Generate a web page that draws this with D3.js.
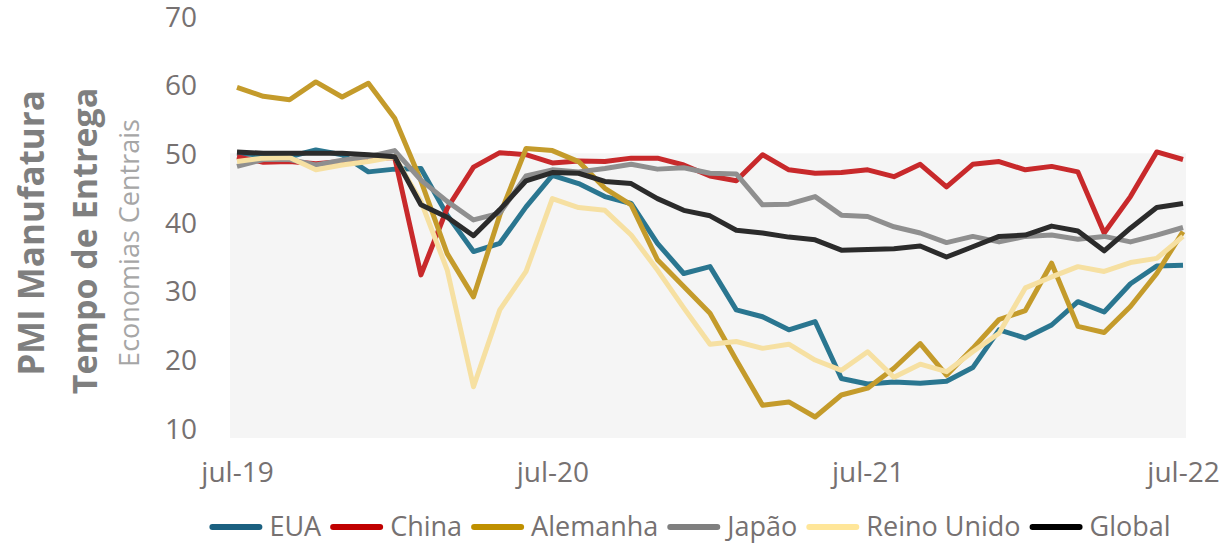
<!DOCTYPE html>
<html>
<head>
<meta charset="utf-8">
<script src="https://cdn.jsdelivr.net/npm/d3@7"></script>
<style>
  html, body { margin: 0; padding: 0; background: #ffffff; }
  svg { display: block; font-family: "Open Sans", "Noto Sans", sans-serif; }
</style>
</head>
<body>
<svg id="chart" width="1224" height="543"></svg>
<script>
// Monthly categories, jul-19 .. jul-22
const months = ["jul-19","ago-19","set-19","out-19","nov-19","dez-19","jan-20","fev-20","mar-20","abr-20","mai-20","jun-20",
  "jul-20","ago-20","set-20","out-20","nov-20","dez-20","jan-21","fev-21","mar-21","abr-21","mai-21","jun-21",
  "jul-21","ago-21","set-21","out-21","nov-21","dez-21","jan-22","fev-22","mar-22","abr-22","mai-22","jun-22","jul-22"];

// PMI delivery-times sub-index by economy
const eua = [50.0,49.7,49.5,50.5,49.8,47.3,47.7,47.8,41.0,35.7,36.9,42.2,46.8,45.6,43.7,42.7,36.9,32.5,33.5,27.2,26.2,24.3,25.5,17.2,16.4,16.7,16.5,16.8,18.8,24.3,23.1,25.0,28.4,26.9,31.0,33.6,33.7];
const china = [49.5,48.7,48.8,48.5,48.8,49.2,49.4,32.3,42.0,48.0,50.1,49.8,48.6,48.9,48.8,49.3,49.3,48.3,46.7,46.0,49.8,47.6,47.1,47.2,47.6,46.6,48.4,45.1,48.4,48.8,47.6,48.1,47.3,38.4,43.7,50.2,49.1];
const alemanha = [59.6,58.3,57.8,60.4,58.2,60.2,55.1,46.0,35.4,29.1,41.0,50.7,50.4,48.8,44.9,42.5,34.5,30.6,26.7,19.9,13.3,13.8,11.6,14.8,15.8,18.7,22.3,17.7,21.6,25.8,27.1,34.0,24.8,23.9,27.7,32.5,38.6];
const japao = [48.1,49.1,49.1,48.3,49.0,49.5,50.4,46.1,43.0,40.3,41.3,46.7,47.6,47.3,47.8,48.4,47.7,47.9,47.1,47.0,42.5,42.6,43.7,41.0,40.8,39.3,38.4,37.0,37.9,37.1,37.9,38.1,37.5,37.9,37.1,38.1,39.2];
const reinoUnido = [48.8,49.3,49.4,47.6,48.3,48.8,49.5,43.0,33.0,16.0,27.2,32.8,43.4,42.1,41.7,38.1,33.0,27.5,22.2,22.6,21.6,22.2,19.9,18.4,21.1,17.4,19.3,18.2,21.1,23.8,30.4,32.0,33.5,32.8,34.1,34.7,37.9];
const global = [50.2,50.0,50.0,50.0,50.0,49.8,49.5,42.5,40.7,38.0,41.8,46.0,47.2,47.1,45.9,45.6,43.4,41.7,40.9,38.8,38.4,37.8,37.4,35.9,36.0,36.1,36.5,34.9,36.4,37.9,38.1,39.4,38.7,35.8,39.1,42.1,42.7];

const seriesNames = ["EUA","China","Alemanha","Japão","Reino Unido","Global"];
const seriesValues = [eua, china, alemanha, japao, reinoUnido, global];

const xTickLabels = ["jul-19","jul-20","jul-21","jul-22"];
const yTickValues = [10,20,30,40,50,60,70];
const contractionThreshold = 50;

// Styling
const lineColors   = ["#2a7690","#c8292b","#c49b2b","#8f8f8f","#f6e0a2","#2b2b2b"];
const legendColors = ["#1b6080","#c00000","#bf9000","#7f7f7f","#ffe699","#000000"];
const textColor = "#767171";
const fontFamily = "'Open Sans', 'Noto Sans', sans-serif";

const svg = d3.select("#chart");

const x = d3.scalePoint().domain(months).range([237, 1183]);
const y = d3.scaleLinear().domain([10, 70]).range([428, 16]);

const plotLeft = 230, plotRight = 1186, plotBottom = 438;

// Shaded band below the 50 mark
svg.append("rect")
  .attr("x", plotLeft)
  .attr("y", y(contractionThreshold))
  .attr("width", plotRight - plotLeft)
  .attr("height", plotBottom - y(contractionThreshold))
  .attr("fill", "#f5f5f5");

// Y axis
const yAxis = svg.append("g")
  .attr("transform", "translate(197,0)")
  .call(d3.axisLeft(y).tickValues(yTickValues).tickSize(0).tickPadding(0).tickFormat(d3.format("d")));
yAxis.attr("font-family", fontFamily).attr("font-size", 28);
yAxis.select(".domain").remove();
yAxis.selectAll("text")
  .attr("fill", textColor)
  .attr("dy", null)
  .attr("y", 10);

// X axis
const xAxis = svg.append("g")
  .attr("transform", "translate(0,482)")
  .call(d3.axisBottom(x).tickValues(xTickLabels).tickSize(0).tickPadding(0));
xAxis.attr("font-family", fontFamily).attr("font-size", 28);
xAxis.select(".domain").remove();
xAxis.selectAll("text")
  .attr("fill", textColor)
  .attr("dy", null)
  .attr("y", 0);

// Series lines
const line = d3.line()
  .x((d, i) => x(months[i]))
  .y(d => y(d));

svg.append("g").selectAll("path")
  .data(seriesValues)
  .join("path")
  .attr("d", d => line(d))
  .attr("fill", "none")
  .attr("stroke", (d, i) => lineColors[i])
  .attr("stroke-width", 5)
  .attr("stroke-linejoin", "round");

// Axis titles (rotated)
const titles = svg.append("g").attr("font-family", fontFamily);
titles.append("text")
  .attr("transform", "translate(44,233) rotate(-90)")
  .attr("text-anchor", "middle")
  .attr("fill", "#7f7f7f")
  .attr("font-weight", "bold")
  .attr("font-size", 35)
  .text("PMI Manufatura");
titles.append("text")
  .attr("transform", "translate(97,241) rotate(-90)")
  .attr("text-anchor", "middle")
  .attr("fill", "#7f7f7f")
  .attr("font-weight", "bold")
  .attr("font-size", 34)
  .text("Tempo de Entrega");
titles.append("text")
  .attr("transform", "translate(139,243) rotate(-90)")
  .attr("text-anchor", "middle")
  .attr("fill", "#a6a6a6")
  .attr("font-size", 27)
  .text("Economias Centrais");

// Legend
const legend = svg.append("g").attr("font-family", fontFamily).attr("font-size", 27);
let cursor = 0;
const sampleLen = 53, sampleGap = 7, itemGap = 9;
seriesNames.forEach((name, i) => {
  const g = legend.append("g").attr("transform", `translate(${cursor},0)`);
  g.append("line")
    .attr("x1", 3).attr("x2", sampleLen - 3)
    .attr("y1", -9).attr("y2", -9)
    .attr("stroke", legendColors[i])
    .attr("stroke-width", 6)
    .attr("stroke-linecap", "round");
  const t = g.append("text")
    .attr("x", sampleLen + sampleGap)
    .attr("y", 0)
    .attr("fill", textColor)
    .text(name);
  cursor += sampleLen + sampleGap + t.node().getComputedTextLength() + itemGap;
});
const legendWidth = cursor - itemGap;
legend.attr("transform", `translate(${690 - legendWidth / 2},536)`);
</script>
</body>
</html>
